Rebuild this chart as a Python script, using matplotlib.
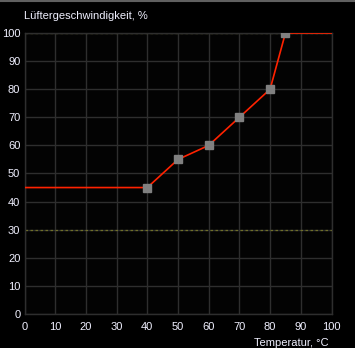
import matplotlib
matplotlib.use("Agg")
import matplotlib.pyplot as plt

temps = [0, 40, 50, 60, 70, 80, 85, 100]
speeds = [45, 45, 55, 60, 70, 80, 100, 100]
point_temps = [40, 50, 60, 70, 80, 85]
point_speeds = [45, 55, 60, 70, 80, 100]
limit_lines = [30, 100]
xticks = list(range(0, 101, 10))
yticks = list(range(0, 101, 10))

plt.rcParams['font.family'] = ['Liberation Sans', 'DejaVu Sans']

W, H = 355, 348
fig = plt.figure(figsize=(W / 100, H / 100), dpi=100, facecolor='#000000')
ax = fig.add_axes([24.5 / W, (H - 314) / H, (331.5 - 24.5) / W, (314 - 33) / H])
ax.set_facecolor('#030303')

ax.set_xlim(0, 100)
ax.set_ylim(0, 100)
ax.set_xticks(xticks)
ax.set_yticks(yticks)
ax.grid(True, color='#2e2e2e', lw=1.0)
ax.set_axisbelow(True)
for s in ax.spines.values():
    s.set_color('#2e2e2e')
    s.set_linewidth(1.0)
ax.tick_params(colors='#f0f0ff', labelsize=8, length=0)
ax.tick_params(axis='x', pad=6)
ax.tick_params(axis='y', pad=3)

for y in limit_lines:
    ax.axhline(y, color='#6e6e2a', lw=0.9, ls=(0, (2, 2)), zorder=2)

ax.plot(temps, speeds, color='#ff2200', lw=1.2, zorder=3, solid_joinstyle='miter')
ax.plot(point_temps, point_speeds, ls='none', marker='s', ms=6.0,
        mfc='#808080', mec='#808080', zorder=4)

fig.text(24 / W, 1 - 16 / H, 'Lüftergeschwindigkeit, %', color='#f0f0ff',
         fontsize=8, ha='left', va='center')
fig.text(329 / W, 1 - 343 / H, 'Temperatur, °C', color='#f0f0ff',
         fontsize=8, ha='right', va='center')

# top border line
fig.add_artist(plt.Line2D([0, 1], [1 - 0.5 / H, 1 - 0.5 / H], color='#606060', lw=1.5,
                          transform=fig.transFigure))

fig.savefig('out.png', dpi=100, facecolor=fig.get_facecolor())
